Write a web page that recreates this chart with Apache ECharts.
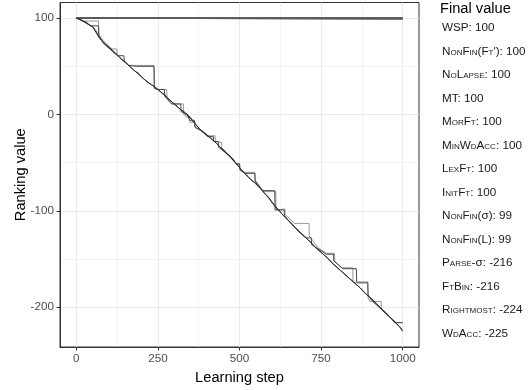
<!DOCTYPE html>
<html>
<head>
<meta charset="utf-8">
<script src="https://cdn.jsdelivr.net/npm/echarts@6/dist/echarts.min.js"></script>
<style>
  html, body { margin: 0; padding: 0; background: #fff; }
  #chart { width: 532px; height: 390px; }
</style>
</head>
<body>
<div id="chart"></div>
<script>
// ──── axis ticks ────
const xTicks = [0, 250, 500, 750, 1000];
const xMinorTicks = [125, 375, 625, 875];
const yTicks = [-200, -100, 0, 100];
const yMinorTicks = [-150, -50, 50];

// ──── legend order + final values ────
const seriesNames = ['WSP', "NonFin(Ft')", 'NoLapse', 'MT', 'MorFt', 'MinWdAcc', 'LexFt', 'InitFt',
    'NonFin(σ)', 'NonFin(L)', 'Parse-σ', 'FtBin', 'Rightmost', 'WdAcc'];
const finalValues = [100, 100, 100, 100, 100, 100, 100, 100, 99, 99, -216, -216, -224, -225];

// ──── runs (step, value) ────
const flatRun = [[0, 100], [1000, 100]];
const nonFinSigma = [[0, 100], [15, 100], [16, 99], [1000, 99]];
const nonFinL = [[0, 100], [22, 100], [23, 99], [1000, 99]];

const parseSigma = [[0, 100], [25, 97], [38, 97], [68, 97], [69, 82], [90, 74], [109, 68], [124, 68],
    [125, 62], [140, 57], [160, 51], [238, 51], [239, 28], [246, 26], [277, 26], [278, 18], [292, 11],
    [328, 11], [329, 0], [345, -4], [348, -8], [364, -8], [365, -14], [389, -18], [400, -22], [425, -22],
    [426, -28], [430, -29], [445, -29], [446, -36], [470, -44], [491, -52], [501, -52], [502, -58],
    [511, -60], [547, -60], [548, -68], [572, -80], [611, -80], [612, -99], [617, -98], [639, -98],
    [640, -104], [669, -113], [713, -113], [714, -126], [740, -138], [766, -144], [791, -144],
    [792, -152], [812, -159], [847, -159], [848, -174], [867, -175], [893, -175], [894, -190],
    [900, -194], [934, -194], [935, -202], [960, -210], [980, -216], [1000, -216]];

const ftBin = [[0, 100], [20, 97], [45, 92], [68, 92], [69, 83], [80, 75], [100, 69], [120, 63],
    [127, 61], [146, 61], [147, 55], [160, 51], [185, 50], [238, 50], [239, 27], [251, 26], [270, 26],
    [271, 19], [292, 11], [320, 11], [321, 3], [340, 0], [348, -6], [362, -6], [363, -13], [380, -16],
    [403, -23], [420, -23], [421, -28], [435, -28], [436, -34], [470, -43], [491, -51], [500, -51],
    [501, -57], [516, -61], [547, -61], [548, -69], [572, -79], [608, -79], [609, -99], [637, -99],
    [638, -105], [660, -114], [705, -128], [720, -128], [721, -135], [766, -145], [788, -145],
    [789, -152], [817, -160], [858, -160], [859, -174], [893, -174], [894, -187], [905, -193],
    [934, -202], [960, -210], [975, -216], [1000, -216]];

const rightmostSteps = [0, 10, 20, 30, 40, 50, 60, 70, 80, 90, 100, 110, 120, 130, 140, 150, 160, 170,
    180, 190, 200, 210, 220, 230, 240, 250, 260, 270, 280, 290, 300, 310, 320, 330, 340, 350, 360, 370,
    380, 390, 400, 410, 420, 430, 440, 450, 460, 470, 480, 490, 500, 510, 520, 530, 540, 550, 560, 570,
    580, 590, 600, 610, 620, 630, 640, 650, 660, 670, 680, 690, 700, 710, 720, 730, 740, 750, 760, 770,
    780, 790, 800, 810, 820, 830, 840, 850, 860, 870, 880, 890, 900, 910, 920, 930, 940, 950, 960, 970,
    980, 990, 1000];
const rightmostValues = [100, 99, 97, 96, 93, 91, 87, 80, 76, 73, 70, 67, 64, 60, 57, 55, 51, 48,
    45, 43, 39, 36, 33, 31, 29, 26, 23, 21, 17, 14, 11, 8, 5, 3, 0, -3, -8, -12,
    -16, -18, -21, -24, -27, -30, -34, -36, -40, -43, -46, -51, -55, -59, -62, -66, -69, -71, -75, -79,
    -83, -86, -91, -95, -99, -103, -107, -110, -113, -117, -121, -124, -127, -130, -133, -137, -140, -143, -146, -149,
    -153, -156, -159, -162, -165, -168, -171, -174, -177, -180, -184, -187, -190, -193, -197, -200, -203, -206, -210, -213,
    -217, -220, -224];

const wdAccSteps = [0, 10, 30, 50, 70, 90, 110, 130, 150, 170, 190, 210, 230, 250, 270, 290, 310, 330,
    350, 370, 390, 410, 430, 450, 470, 490, 510, 530, 550, 570, 590, 610, 630, 650, 670, 690, 710, 730,
    750, 770, 790, 810, 830, 850, 870, 890, 910, 930, 950, 970, 990, 1000];
const wdAccValues = [100, 99, 95, 91, 80, 72, 66, 60, 54, 48, 42, 36, 31, 26, 20, 14, 8, 2,
    -4, -12, -19, -24, -30, -37, -43, -51, -59, -66, -72, -79, -87, -96, -103, -110, -117, -124, -130, -137,
    -143, -149, -156, -162, -168, -174, -180, -187, -193, -200, -207, -213, -220, -225];

const zip = (xs, ys) => xs.map((x, i) => [x, ys[i]]);

const runs = {
    'NonFin(σ)': nonFinSigma,
    'NonFin(L)': nonFinL,
    'Parse-σ': parseSigma,
    'FtBin': ftBin,
    'Rightmost': zip(rightmostSteps, rightmostValues),
    'WdAcc': zip(wdAccSteps, wdAccValues),
};
// 每条线的灰度
const lineColors = {
    'Parse-σ': '#9a9a9a',
    'FtBin': '#4a4a4a',
    'Rightmost': '#3a3a3a',
    'WdAcc': '#2a2a2a',
};

const FONT = '"Liberation Sans", Arial, Helvetica, sans-serif';
const CAPS_FONT = 'small-caps normal 11.7px ' + FONT;
const PLAIN_FONT = 'normal normal 11.7px ' + FONT;

// 图例文字：small-caps，σ 保持原样
const legendTop = 28;
const legendGap = 23.5;
const legendItems = seriesNames.map((n, i) => ({
    type: 'text',
    x: 442,
    y: legendTop + i * legendGap,
    silent: true,
    style: {
        text: `${n}: ${finalValues[i]}`.replace(/σ/g, '{g|σ}'),
        font: CAPS_FONT,
        fill: '#1a1a1a',
        rich: { g: { font: PLAIN_FONT, fontSize: 11.7, fontFamily: FONT, fill: '#1a1a1a' } },
        verticalAlign: 'middle',
        align: 'left',
    },
}));

const series = seriesNames.map(n => ({
    name: n,
    type: 'line',
    data: runs[n] || flatRun,
    symbol: 'none',
    silent: true,
    lineStyle: { color: lineColors[n] || '#5c5c5c', width: 1 },
    animation: false,
}));

const axisLine = { show: true, onZero: false, lineStyle: { color: '#333333', width: 1 } };

const chart = echarts.init(document.getElementById('chart'), null, { renderer: 'canvas' });
chart.setOption({
    animation: false,
    backgroundColor: '#fff',
    grid: {
        left: 60, right: 113, top: 2.5, bottom: 43,
        show: true, borderColor: '#333333', borderWidth: 1, backgroundColor: 'transparent',
        containLabel: false,
        outerBoundsMode: 'none',
    },
    xAxis: [{
        type: 'value', min: -50, max: 1050,
        name: 'Learning step', nameLocation: 'middle', nameGap: 23,
        nameMoveOverlap: false,
        nameTextStyle: { fontSize: 14.67, color: '#000', fontFamily: FONT },
        axisLine,
        axisTick: { show: true, length: 3.5, customValues: xTicks, lineStyle: { color: '#333', width: 1 } },
        axisLabel: { customValues: xTicks, color: '#4d4d4d', fontSize: 11.7, margin: 6, fontFamily: FONT,
            formatter: v => String(v) },
        splitLine: { show: true, lineStyle: { color: '#ebebeb', width: 1.1 } },
    }, {
        type: 'value', min: -50, max: 1050, position: 'bottom',
        axisLine: { show: false, onZero: false },
        axisTick: { show: false, customValues: xMinorTicks },
        axisLabel: { show: false, customValues: xMinorTicks },
        splitLine: { show: true, lineStyle: { color: '#ebebeb', width: 0.55 } },
    }],
    yAxis: [{
        type: 'value', min: -241.25, max: 116.25,
        name: 'Ranking value', nameLocation: 'middle', nameGap: 32, nameRotate: 90,
        nameMoveOverlap: false,
        nameTextStyle: { fontSize: 14.67, color: '#000', fontFamily: FONT },
        axisLine,
        axisTick: { show: true, length: 3.5, customValues: yTicks, lineStyle: { color: '#333', width: 1 } },
        axisLabel: { customValues: yTicks, color: '#4d4d4d', fontSize: 11.7, margin: 6, fontFamily: FONT,
            formatter: v => String(v) },
        splitLine: { show: true, lineStyle: { color: '#ebebeb', width: 1.1 } },
    }, {
        type: 'value', min: -241.25, max: 116.25, position: 'left',
        axisLine: { show: false, onZero: false },
        axisTick: { show: false, customValues: yMinorTicks },
        axisLabel: { show: false, customValues: yMinorTicks },
        splitLine: { show: true, lineStyle: { color: '#ebebeb', width: 0.55 } },
    }],
    graphic: [{
        type: 'text', x: 440, y: 9, silent: true,
        style: { text: 'Final value', fontSize: 14.67, fontFamily: FONT, fill: '#000', verticalAlign: 'middle' },
    }].concat(legendItems),
    series,
});
</script>
</body>
</html>
